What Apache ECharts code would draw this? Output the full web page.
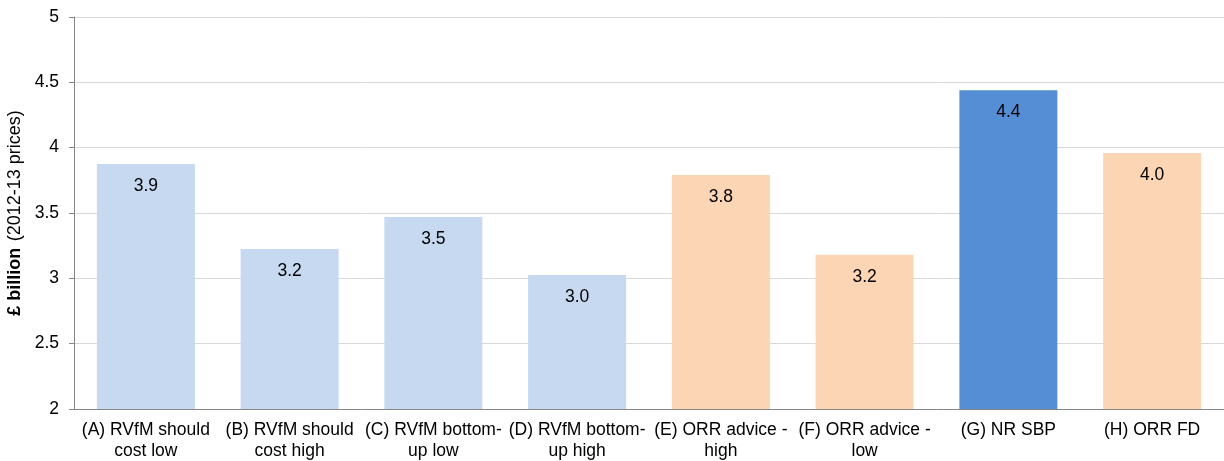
<!DOCTYPE html>
<html><head><meta charset="utf-8">
<script src="https://cdn.jsdelivr.net/npm/echarts@6/dist/echarts.min.js"></script>
<style>html,body{margin:0;padding:0;background:#fff}#c{width:1224px;height:461px}</style>
</head><body><div id="c"></div>
<script>
const categories = ["(A) RVfM should\ncost low","(B) RVfM should\ncost high","(C) RVfM bottom-\nup low","(D) RVfM bottom-\nup high","(E) ORR advice -\nhigh","(F) ORR advice -\nlow","(G) NR SBP","(H) ORR FD"];
const values = [3.875, 3.225, 3.47, 3.026, 3.79, 3.18, 4.44, 3.96];
const colors = ["#C6D9F1","#C6D9F1","#C6D9F1","#C6D9F1","#FCD5B5","#FCD5B5","#558ED5","#FCD5B5"];
const yTicks = [2, 2.5, 3, 3.5, 4, 4.5, 5];

const chart = echarts.init(document.getElementById('c'), null, {renderer:'canvas'});
const font = '"Liberation Sans", Arial, sans-serif';
chart.setOption({
  animation:false,
  grid:{left:74, right:0, top:17, bottom:52, containLabel:false, outerBoundsMode:'none'},
  xAxis:{
    type:'category', data:categories,
    axisLine:{lineStyle:{color:'#868686', width:1}},
    axisTick:{show:false},
    axisLabel:{color:'#000', fontFamily:font, fontSize:17.5, lineHeight:21, margin:11, interval:0}
  },
  yAxis:{
    type:'value', min:yTicks[0], max:yTicks[yTicks.length-1], interval:0.5,
    axisLine:{show:true, lineStyle:{color:'#868686', width:1}},
    axisTick:{show:true, length:5, lineStyle:{color:'#868686'}},
    splitLine:{lineStyle:{color:'#D9D9D9', width:1}},
    axisLabel:{color:'#000', fontFamily:font, fontSize:17.5, margin:15,
      formatter: v => String(v)},
    name:'{b|£ billion}  {n|(2012-13 prices)}',
    nameLocation:'middle', nameGap:42, nameRotate:90,
    nameTextStyle:{rich:{
      b:{fontFamily:font, fontSize:18, fontWeight:'bold', color:'#000'},
      n:{fontFamily:font, fontSize:18, color:'#000'}
    }}
  },
  series:[{
    type:'bar', barWidth:98,
    data: values.map((v,i)=>({value:v, itemStyle:{color:colors[i]}})),
    label:{show:true, position:'insideTop', distance:13, color:'#000',
      fontFamily:font, fontSize:17.5, formatter: p => p.value.toFixed(1)}
  }]
});
</script></body></html>
